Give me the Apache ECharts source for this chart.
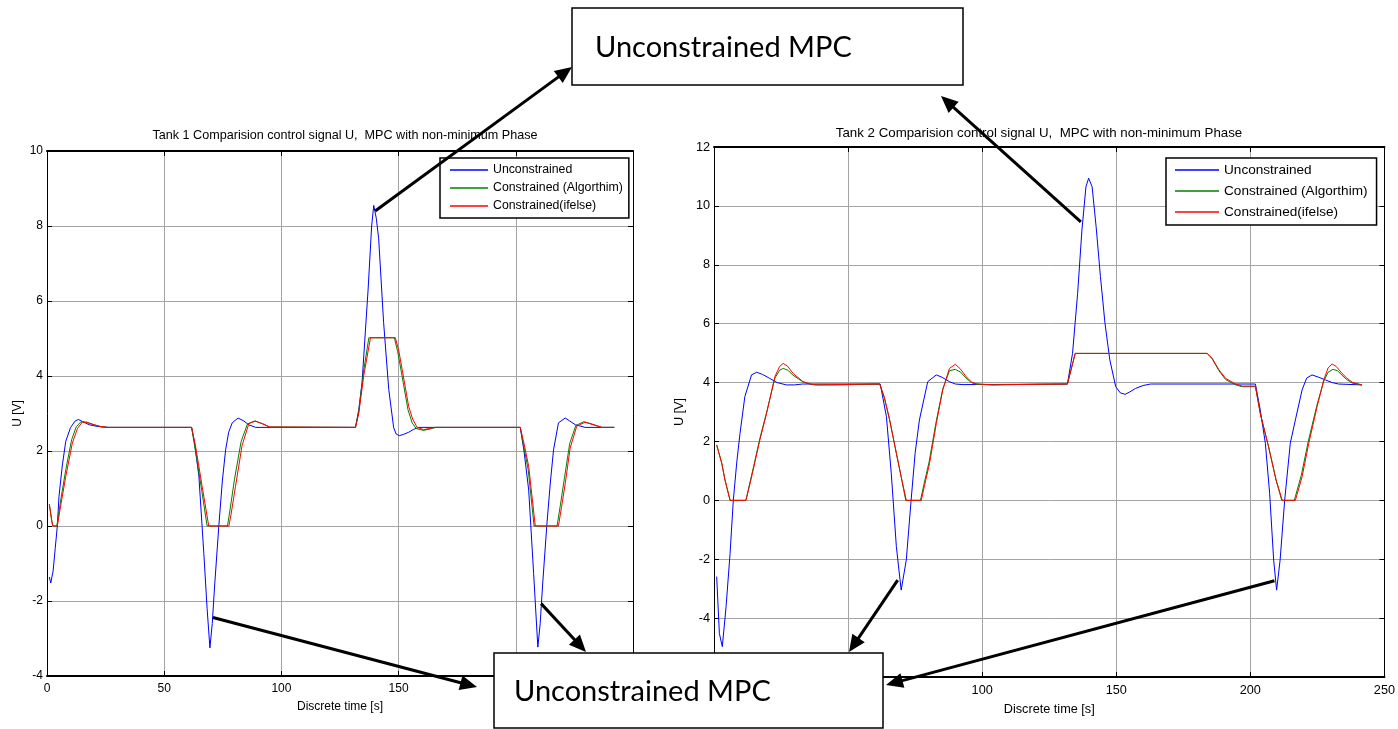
<!DOCTYPE html>
<html><head><meta charset="utf-8">
<script src="https://cdn.jsdelivr.net/npm/echarts@6/dist/echarts.min.js"></script>
<style>html,body{margin:0;padding:0;background:#fff}#c{width:1398px;height:729px}</style>
</head><body><div id="c"></div>
<script>
// ---------- data: [time s, U V] ----------
const seriesNames = ['Unconstrained', 'Constrained (Algorthim)', 'Constrained(ifelse)'];
const chartTitles = ['Tank 1 Comparision control signal U,  MPC with non-minimum Phase',
                     'Tank 2 Comparision control signal U,  MPC with non-minimum Phase'];
const xAxisName = 'Discrete time [s]';
const yAxisName = 'U [V]';
const annotationText = 'Unconstrained MPC';
const tank1XRange = [0, 250, 50];
const tank1YRange = [-4, 10, 2];
const tank2XRange = [0, 250, 50];
const tank2YRange = [-6, 12, 2];

const tank1Unconstrained = [[1,-1.36],[1.6,-1.52],[2.6,-1.2],[3.5,-0.6],[4.4,0],[5.1,0.78],[6.5,1.6],[8,2.26],[10,2.62],[12,2.8],[13.4,2.84],[15,2.79],[18,2.7],[22,2.65],[26,2.63],
  [61.7,2.63],[63,2.2],[64.8,1.32],[66.9,-0.73],[68.3,-2.2],[69.5,-3.25],[70.5,-2.6],[71.5,-1.6],[73.3,0],[74.8,1.2],[76.2,2.03],[77.5,2.5],[79,2.75],[81.5,2.88],[84,2.8],[86,2.7],[89,2.63],
  [131.6,2.63],[133,3.1],[134.4,3.82],[137,6.32],[138.5,8.0],[139.4,8.55],[140.5,8.2],[141.5,7.66],[143.6,5.43],[145.8,3.64],[147.9,2.62],[149,2.45],[150.3,2.41],[152,2.44],[154.3,2.5],[156.5,2.58],[158.6,2.63],
  [201.9,2.63],[203.5,2.0],[205.5,0.96],[207.6,-1.26],[209.4,-3.23],[210.4,-2.6],[211.4,-1.6],[213.3,0.08],[214.8,1.2],[216.1,2.03],[218.2,2.75],[221.1,2.88],[223,2.8],[225.4,2.7],[229.6,2.63],[242,2.63]];

const tank1Algorithm = [[1,0.58],[2,0.15],[2.5,0],[4.2,0],[6,0.75],[8,1.5],[10.5,2.3],[12.5,2.65],[14.5,2.78],[17,2.77],[20,2.7],[23,2.65],[26,2.63],
  [61.7,2.63],[63.2,2.05],[66,0.95],[68.3,0],[77,0],[78,0.4],[80,1.25],[82.8,2.25],[85.5,2.72],[88.5,2.8],[92,2.73],[95,2.64],
  [131.6,2.63],[133,3.05],[135,4.1],[137.3,5.02],[148.2,5.02],[149.6,4.65],[151.2,4.1],[154,3.1],[155.8,2.75],[157.5,2.6],[160.5,2.55],[163,2.58],[166,2.63],
  [201.9,2.63],[203.3,2.15],[205.3,1.5],[207.8,0],[217.6,0],[219,0.55],[220.8,1.3],[223,2.2],[225.6,2.68],[229,2.78],[233,2.71],[236.7,2.63],[242,2.63]];

const tank1IfElse = [[1,0.58],[2,0.15],[2.5,0],[4.4,0],[6,0.6],[8,1.32],[10.8,2.21],[13,2.6],[15,2.77],[17,2.76],[20,2.7],[23,2.65],[26,2.63],
  [61.7,2.63],[63.4,2.12],[66.2,1.05],[69,0],[77.6,0],[78.5,0.3],[80.4,1.05],[83.2,2.14],[86.1,2.73],[89,2.8],[92,2.72],[95,2.64],
  [131.6,2.63],[133,3.0],[135.1,4.0],[138,5.02],[148.6,5.02],[150,4.7],[151.5,4.18],[154.3,3.19],[156,2.85],[157.9,2.63],[160.7,2.57],[163,2.6],[165,2.63],
  [201.9,2.63],[203.5,2.2],[205.5,1.59],[208.3,0],[218.2,0],[219.5,0.5],[221.1,1.14],[223.2,2.08],[226,2.66],[229.6,2.77],[233,2.7],[236.7,2.63],[242,2.63]];

const tank2Unconstrained = [[1,-2.59],[2,-4.52],[3.1,-4.97],[4.5,-3.61],[6,-1.8],[7.2,0],[8.5,1.3],[9.7,2.27],[11.5,3.52],[14,4.26],[15.9,4.35],[18,4.28],[20.8,4.14],[23.5,4.0],[27,3.92],[30,3.92],[33,3.95],
  [62,3.95],[64.3,2.84],[66.1,0.92],[68,-1.57],[69.8,-3.05],[71.7,-2.03],[73.5,0],[75,1.6],[76.6,2.73],[79.7,4.03],[82.9,4.26],[85,4.18],[87.8,4.03],[90,3.95],[92.8,3.93],
  [131.8,3.95],[133.7,4.99],[135.6,7.03],[137.2,9.18],[138.7,10.65],[139.7,10.94],[141,10.65],[142.5,9.29],[144.1,7.6],[145.8,6.01],[147.6,4.77],[149.8,3.86],[151.5,3.65],[153.3,3.6],[155,3.68],[157.2,3.8],[160,3.9],[162.8,3.95],
  [201.9,3.95],[203.7,3.07],[205.6,1.94],[207.2,0.24],[208.7,-2.03],[209.8,-3.05],[211.1,-2.03],[212.8,0],[214.9,1.94],[216.8,2.73],[219.3,3.75],[221,4.15],[223,4.26],[225.5,4.18],[228,4.09],[230.5,4.0],[232.9,3.95],[241.6,3.92]];

const tank2Algorithm = [[1,1.88],[2.9,1.26],[4.1,0.69],[6,0],[11.9,0],[13,0.45],[14.6,1.08],[17.1,2.1],[19.6,2.98],[22.7,4.15],[24.5,4.42],[25.8,4.48],[27.5,4.42],[29.5,4.25],[33.2,4.02],[36,3.94],[38.2,3.92],[45.6,3.92],
  [61.8,3.95],[63.5,3.5],[65.5,2.73],[68,1.6],[69.8,0.8],[71.5,0],[77,0],[78.3,0.55],[80.2,1.3],[82.8,2.65],[85.3,3.78],[87.8,4.4],[90,4.45],[92,4.35],[94,4.15],[96,4.0],[97.7,3.94],[104,3.92],[110,3.93],
  [131.8,3.95],[134.7,4.99],[183.9,4.99],[185.8,4.8],[188.3,4.4],[190.8,4.1],[194.5,3.92],[197,3.86],[201.9,3.86],
  [203.7,2.95],[206.8,1.82],[209.6,0.69],[211.7,0],[216.4,0],[219,0.85],[221.6,2.0],[224.8,3.22],[227.4,4.05],[229,4.35],[230.8,4.45],[232.5,4.4],[234.2,4.25],[236,4.1],[238,3.98],[241.6,3.92]];

const tank2IfElse = [[1,1.88],[2.9,1.26],[4.1,0.69],[6,0],[11.9,0],[13,0.4],[14.6,1.03],[17.1,2.05],[19.6,2.95],[22.7,4.2],[24.5,4.55],[25.8,4.65],[27.5,4.55],[29.5,4.31],[33.2,4.03],[36,3.95],[38.2,3.92],[45.6,3.93],
  [61.8,3.95],[63.5,3.5],[65.5,2.73],[68,1.6],[69.8,0.8],[71.7,0],[77.3,0],[78.5,0.5],[80.4,1.26],[82.9,2.61],[85.3,3.75],[87.8,4.48],[90,4.62],[92,4.45],[94,4.2],[96,4.02],[97.7,3.96],[104,3.92],[110,3.93],
  [131.8,3.95],[134.7,4.99],[183.9,4.99],[185.8,4.82],[188.3,4.43],[190.8,4.14],[194.5,3.95],[197,3.88],[201.9,3.88],
  [203.7,2.95],[206.8,1.82],[209.6,0.69],[211.9,0],[216.8,0],[219.3,0.8],[221.8,1.94],[224.9,3.18],[227.4,4.09],[229,4.5],[230.5,4.63],[232,4.55],[234.2,4.31],[236,4.15],[238,4.01],[241.6,3.92]];

// arrow tails, in data coordinates: [chart index, time, U]
const arrowTails = [[0,140,8.4],[1,136.8,9.46],[0,70.8,-2.44],[0,210.8,-2.07],[1,68.5,-2.71],[1,209,-2.73]];

// ---------- layout / style ----------
const colors = ['#0000ff', '#008000', '#ff0000'];
const FONT = "'Liberation Sans', Arial, sans-serif";
const grids = [{left:47, top:151, width:586, height:525}, {left:714, top:147, width:672, height:530}];
const fs = [12, 12.7];
const titleFs = [12.6, 13.3];
const legendFs = [12.3, 13.6];

const chart = echarts.init(document.getElementById('c'), null, {renderer:'canvas'});

function axisPair(g, dir, range) {
  const [mn, mx, step] = range;
  const base = {gridIndex:g, type:'value', min:mn, max:mx, interval:step,
    axisLine:{show:true, onZero:false, lineStyle:{color:'#000', width: dir==='x'?2:1}},
    axisTick:{show:true, inside:true, length:5, lineStyle:{color:'#000'}}};
  const main = Object.assign({}, base, {
    position: dir==='x' ? 'bottom' : 'left',
    axisLabel:{color:'#000', fontSize:fs[g], fontFamily:FONT, margin: dir==='x'?7:4},
    splitLine:{show:true, lineStyle:{color:'#a4a4a4', width:1}},
    name: dir==='x' ? xAxisName : yAxisName, nameLocation:'middle',
    nameGap: dir==='x' ? (g?26:25) : (g?28:23),
    nameTextStyle:{color:'#000', fontSize:fs[g], fontFamily:FONT}
  });
  const opp = Object.assign({}, base, {
    position: dir==='x' ? 'top' : 'right',
    axisLabel:{show:false}, splitLine:{show:false}
  });
  return [main, opp];
}

const xAxes = [...axisPair(0,'x',tank1XRange), ...axisPair(1,'x',tank2XRange)];
const yAxes = [...axisPair(0,'y',tank1YRange), ...axisPair(1,'y',tank2YRange)];

function line(name, data, ci, g) {
  return {type:'line', name, data, xAxisIndex:g*2, yAxisIndex:g*2, symbol:'none', showSymbol:false,
    lineStyle:{color:colors[ci], width:1}, itemStyle:{color:colors[ci]}, z:2+ci, animation:false, silent:true};
}

const series = [
  line(seriesNames[0], tank1Unconstrained, 0, 0),
  line(seriesNames[1], tank1Algorithm, 1, 0),
  line(seriesNames[2], tank1IfElse, 2, 0),
  line(seriesNames[0], tank2Unconstrained, 0, 1),
  line(seriesNames[1], tank2Algorithm, 1, 1),
  line(seriesNames[2], tank2IfElse, 2, 1)
];

function legend(left, top, g) {
  return {left, top, orient:'vertical', data:seriesNames, selectedMode:false,
    icon:'rect', backgroundColor:'#fff', borderColor:'#000', borderWidth:1.5,
    padding: g ? [5,9,6,9] : [6,6,6,10], itemGap: g ? 7 : 6,
    itemWidth: g ? 44 : 38, itemHeight: 1.5,
    textStyle:{color:'#000', fontSize:legendFs[g], fontFamily:FONT, lineHeight: g ? 13 : 12}};
}

chart.setOption({
  animation:false,
  backgroundColor:'#fff',
  title:[
    {text:chartTitles[0], left:340, top:124, textAlign:'center', textStyle:{fontSize:titleFs[0], fontWeight:'normal', color:'#000', fontFamily:FONT}},
    {text:chartTitles[1], left:1034, top:122, textAlign:'center', textStyle:{fontSize:titleFs[1], fontWeight:'normal', color:'#000', fontFamily:FONT}}
  ],
  grid: grids,
  xAxis: xAxes,
  yAxis: yAxes,
  legend: [legend(440,158,0), legend(1166,158,1)],
  series
});

// ---------- annotations ----------
const boxes = [{x:572, y:8, w:391, h:77, tx:595, ty:48}, {x:494, y:653, w:389, h:75, tx:514, ty:692}];
const arrowTips = [[572,67],[941,96],[477,687],[586,652],[849,652],[886,685]];

const gfx = [];
boxes.forEach(b => {
  gfx.push({type:'rect', shape:{x:b.x, y:b.y, width:b.w, height:b.h}, style:{fill:'#fff', stroke:'#000', lineWidth:1.5}, z:100});
  gfx.push({type:'text', style:{text:annotationText, x:b.tx, y:b.ty, fontSize:29, fontFamily:"Lato, 'Open Sans', sans-serif", fill:'#000', verticalAlign:'middle', align:'left'}, z:101});
});
arrowTails.forEach((t, i) => {
  const from = chart.convertToPixel({gridIndex:t[0]}, [t[1], t[2]]);
  const to = arrowTips[i];
  const dx = to[0]-from[0], dy = to[1]-from[1], L = Math.hypot(dx,dy), ux = dx/L, uy = dy/L;
  const hl = 17, hw = 7.5;
  const bx = to[0]-ux*hl, by = to[1]-uy*hl;
  gfx.push({type:'line', shape:{x1:from[0], y1:from[1], x2:bx+ux*2, y2:by+uy*2}, style:{stroke:'#000', lineWidth:3}, z:102});
  gfx.push({type:'polygon', shape:{points:[to,[bx-uy*hw, by+ux*hw],[bx+uy*hw, by-ux*hw]]}, style:{fill:'#000'}, z:102});
});
chart.setOption({graphic: gfx});
</script>
</body></html>
